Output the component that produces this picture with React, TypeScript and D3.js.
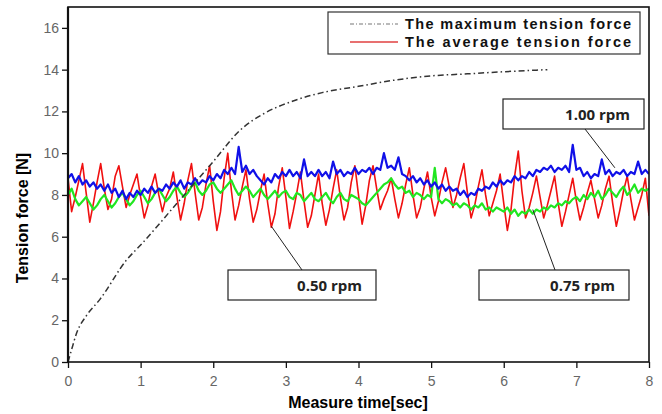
import * as d3 from "d3";
import { useEffect, useRef } from "react";

// ---- data ----
const maxTime = [0, 0.05, 0.12, 0.25, 0.44, 0.81, 1.0, 1.5, 2.0, 2.37, 2.7, 3.1, 3.5, 4.0, 4.5, 5.0, 5.5, 6.0, 6.6];
const maxForce = [0, 0.6, 1.4, 2.2, 3.0, 4.9, 5.6, 7.6, 9.6, 11.1, 11.9, 12.5, 12.9, 13.2, 13.5, 13.7, 13.8, 13.9, 14.0];

// samples every 0.05 s, 0 .. 8 s
const sampleStep = 0.05;

const rpm050 = [
  8.8, 7.2, 7.9, 8.7, 9.5, 8.1, 6.7, 7.6, 8.6, 9.5,
  8.3, 7.3, 7.8, 8.9, 9.4, 8.4, 7.4, 8.0, 8.5, 9.0,
  7.9, 6.9, 7.5, 8.4, 9.0, 8.0, 7.2, 7.9, 8.3, 9.1,
  7.9, 6.8, 7.6, 8.7, 9.5, 8.1, 6.8, 7.4, 8.5, 9.4,
  7.7, 6.3, 7.2, 8.8, 10.0, 8.2, 6.8, 7.5, 8.4, 9.2,
  7.8, 6.7, 7.3, 8.2, 9.0, 7.6, 6.45, 7.1, 8.4, 9.3,
  7.9, 6.4, 7.2, 8.1, 9.1, 7.7, 6.45, 7.0, 8.0, 9.0,
  7.6, 6.55, 7.3, 8.3, 9.2, 7.9, 6.8, 7.4, 8.6, 9.4,
  8.0, 6.6, 7.5, 8.7, 9.4, 8.3, 7.3, 7.8, 8.2, 8.8,
  7.8, 6.9, 7.6, 8.5, 9.3, 8.0, 6.9, 7.4, 8.3, 9.1,
  7.9, 7.0, 7.7, 8.6, 9.3, 8.4, 7.4, 8.0, 8.8, 9.5,
  8.1, 6.9, 7.5, 8.4, 9.2, 8.0, 7.0, 7.6, 8.2, 9.0,
  7.6, 6.3, 7.3, 8.9, 10.1, 8.2, 6.9, 7.4, 8.1, 8.9,
  7.9, 6.9, 7.5, 8.2, 8.9, 7.6, 6.5, 7.2, 8.0, 8.8,
  7.7, 6.8, 7.4, 8.1, 8.7, 7.8, 6.9, 7.5, 8.3, 8.9,
  7.6, 6.5, 7.3, 8.2, 8.9, 7.8, 6.8, 7.4, 8.0, 8.8,
  7.0,
];

const rpm075 = [
  8.0, 8.3, 7.8, 7.5, 7.7, 7.9, 7.6, 7.3, 7.5, 7.8,
  8.0, 7.7, 7.4, 7.6, 7.9, 8.1, 7.8, 7.5, 7.7, 8.0,
  8.2, 7.9, 7.6, 7.8, 8.1, 8.3, 8.0, 7.7, 7.9, 8.2,
  8.4, 8.1, 7.9, 8.1, 8.4, 8.6, 8.2, 8.0, 8.2, 8.5,
  8.6, 8.3, 8.1, 8.3, 8.5, 8.7, 8.3, 8.0, 8.2, 8.4,
  8.2, 7.9, 8.1, 8.3, 8.0, 7.8, 8.0, 8.2, 7.9, 8.1,
  8.2, 7.9, 7.8, 8.1, 8.0, 7.7, 7.9, 8.1, 7.8, 7.7,
  7.9, 8.1, 7.8, 7.6, 7.9, 8.1, 7.8, 7.7, 8.0, 7.9,
  7.8, 7.6, 7.5, 7.7, 7.9, 8.1, 8.3, 8.5, 8.6, 8.8,
  8.5, 8.3, 8.4, 8.1, 8.2, 7.9, 8.1, 8.0, 7.8, 8.0,
  7.9, 9.3, 7.8, 7.6, 7.8, 7.7, 7.5, 7.6, 7.4, 7.6,
  7.5, 7.3, 7.5, 7.4, 7.6, 7.3, 7.4, 7.2, 7.4, 7.3,
  7.2, 7.4, 7.1, 7.3, 7.0, 7.2, 7.1, 7.3, 7.1, 7.3,
  7.2, 7.4, 7.3, 7.5, 7.4, 7.6, 7.5, 7.7, 7.6, 7.8,
  7.9, 7.7, 8.0, 7.8, 8.1, 7.9, 8.2, 7.8, 8.0, 8.3,
  8.1, 7.9, 8.2, 8.4, 8.0, 8.2, 8.5, 8.1, 8.3, 8.2,
  8.3,
];

const rpm100 = [
  8.8, 9.0, 8.6, 8.9, 8.5, 8.7, 8.4, 8.6, 8.3, 8.5,
  8.2, 8.5, 8.1, 8.3, 7.9, 8.2, 7.8, 8.1, 7.9, 8.2,
  8.0, 8.3, 8.1, 8.4, 8.1, 8.3, 8.2, 8.5, 8.3, 8.6,
  8.4, 8.7, 8.3, 8.6, 8.5, 8.8, 8.5, 8.7, 8.6, 8.9,
  8.7, 9.0, 8.8, 9.2, 9.0, 9.3, 9.0, 10.3, 9.1, 9.4,
  9.0, 9.2, 8.9, 8.7, 8.5, 8.8, 8.6, 9.0, 8.8, 9.1,
  8.9, 9.2, 8.9, 9.1, 8.8, 9.7, 8.9, 9.1, 8.9, 9.2,
  8.9, 9.1, 8.8, 9.6, 9.0, 9.2, 8.9, 9.1, 9.0, 9.3,
  9.0, 9.2, 9.1, 9.3, 9.0, 9.3, 9.2, 10.0, 9.3, 9.4,
  9.2, 9.8, 9.0, 8.9, 8.7, 8.9, 8.6, 8.8, 8.5, 8.7,
  8.4, 8.6, 8.3, 8.5, 8.2, 8.4, 8.2, 8.3, 8.0, 8.2,
  7.9, 8.1, 8.0, 8.3, 8.2, 8.4, 8.3, 8.6, 8.4, 8.7,
  8.5, 8.7, 8.6, 8.9, 8.7, 8.9, 8.8, 9.1, 8.9, 9.2,
  9.1, 9.3, 9.2, 9.4, 9.1, 9.3, 9.2, 9.4, 9.1, 10.4,
  9.2, 9.3, 8.9, 9.1, 8.8, 9.0, 8.9, 9.7, 9.0, 9.2,
  8.9, 9.1, 9.0, 9.2, 8.9, 9.1, 9.0, 9.6, 9.0, 9.2,
  9.0,
];

const xTicks = [0, 1, 2, 3, 4, 5, 6, 7, 8];
const yTicks = [0, 2, 4, 6, 8, 10, 12, 14, 16];
const legendLabels = ["The maximum tension force", "The average tension force"];

// label, point on the trace [sec, N] the leader line goes to
const rpmLabels = ["1.00 rpm", "0.50 rpm", "0.75 rpm"];
const rpmTargets = [[7.53, 9.3], [2.8, 6.5], [6.4, 7.3]];

const App = () => {
  const ref = useRef<SVGSVGElement>(null);

  useEffect(() => {
    const svg = d3.select(ref.current);
    svg.selectAll("*").remove();

    const left = 68, right = 649, top = 7, bottom = 362;
    const x = d3.scaleLinear().domain([0, 8]).range([left, right]);
    const y = d3.scaleLinear().domain([0, 17]).range([bottom, top]);

    svg.append("defs").append("clipPath").attr("id", "plotclip")
      .append("rect").attr("x", left).attr("y", top)
      .attr("width", right - left).attr("height", bottom - top);

    const plot = svg.append("g").attr("clip-path", "url(#plotclip)");

    const series = (vals: number[]) => vals.map((v, i) => [i * sampleStep, v] as [number, number]);
    const line = d3.line<[number, number]>().x((d) => x(d[0])).y((d) => y(d[1]));

    const traces = [
      { vals: rpm050, color: "#f01010", w: 1.6 },
      { vals: rpm075, color: "#20e620", w: 2.2 },
      { vals: rpm100, color: "#1010e8", w: 2.2 },
    ];
    traces.forEach((tr) => {
      plot.append("path")
        .attr("d", line(series(tr.vals)))
        .attr("fill", "none")
        .attr("stroke", tr.color)
        .attr("stroke-width", tr.w)
        .attr("stroke-linejoin", "round");
    });

    const maxLine = d3.line<number>()
      .x((d, i) => x(maxTime[i]))
      .y((d) => y(d))
      .curve(d3.curveMonotoneX);
    plot.append("path")
      .attr("d", maxLine(maxForce))
      .attr("fill", "none")
      .attr("stroke", "#333")
      .attr("stroke-width", 1.5)
      .attr("stroke-dasharray", "6,3,1.5,3");

    // axes
    const xAxis = svg.append("g").attr("transform", `translate(0,${bottom})`);
    xAxis.call(d3.axisBottom(x).tickValues(d3.range(0, 8.01, 0.5)).tickSize(3).tickFormat(() => ""));
    xAxis.call(d3.axisBottom(x).tickValues(xTicks).tickSize(6).tickFormat(d3.format("d")));
    const yAxis = svg.append("g").attr("transform", `translate(${left},0)`);
    yAxis.call(d3.axisLeft(y).tickValues(d3.range(0, 17.01, 1)).tickSize(3).tickFormat(() => ""));
    yAxis.call(d3.axisLeft(y).tickValues(yTicks).tickSize(6).tickFormat(d3.format("d")));
    svg.selectAll(".domain").remove();
    svg.selectAll(".tick line").attr("stroke", "#111").attr("stroke-width", 1.3);
    svg.selectAll(".tick text")
      .attr("fill", "#666")
      .style("font-family", "Liberation Sans, Arial, sans-serif")
      .style("font-size", "14px");
    xAxis.selectAll(".tick text").attr("dy", "1.1em");
    yAxis.selectAll(".tick text").attr("x", -9);

    svg.append("rect")
      .attr("x", left).attr("y", top)
      .attr("width", right - left).attr("height", bottom - top)
      .attr("fill", "none").attr("stroke", "#111").attr("stroke-width", 1.6);
    svg.append("line").attr("x1", left).attr("x2", left).attr("y1", top).attr("y2", bottom)
      .attr("stroke", "#111").attr("stroke-width", 2.2);

    svg.append("text")
      .attr("x", 358).attr("y", 408)
      .attr("text-anchor", "middle")
      .style("font-family", "Liberation Sans, Arial, sans-serif")
      .style("font-weight", "bold").style("font-size", "16px")
      .text("Measure time[sec]");
    svg.append("text")
      .attr("transform", "translate(28,218) rotate(-90)")
      .attr("text-anchor", "middle")
      .style("font-family", "Liberation Sans, Arial, sans-serif")
      .style("font-weight", "bold").style("font-size", "16px")
      .text("Tension force [N]");

    // legend
    const lg = svg.append("g");
    lg.append("rect").attr("x", 328).attr("y", 12).attr("width", 312).attr("height", 42)
      .attr("fill", "#fff").attr("stroke", "#333").attr("stroke-width", 1.2);
    lg.append("line").attr("x1", 350).attr("x2", 398).attr("y1", 24).attr("y2", 24)
      .attr("stroke", "#777").attr("stroke-width", 1.2).attr("stroke-dasharray", "4,2,1,2");
    lg.append("line").attr("x1", 350).attr("x2", 398).attr("y1", 42).attr("y2", 42)
      .attr("stroke", "#e04040").attr("stroke-width", 1.3);
    legendLabels.forEach((lab, i) => {
      lg.append("text")
        .attr("x", 405).attr("y", 29 + i * 18)
        .attr("textLength", 226).attr("lengthAdjust", "spacing")
        .style("font-family", "Liberation Sans, Arial, sans-serif")
        .style("font-weight", "bold").style("font-size", "14.5px")
        .attr("fill", "#111")
        .text(lab);
    });

    // rpm annotations
    const boxes = [
      { x: 503, y: 99, w: 141, h: 30, lx: 585, ly: 129 },
      { x: 228, y: 270, w: 148, h: 30, lx: 302, ly: 270 },
      { x: 479, y: 270, w: 150, h: 30, lx: 555, ly: 270 },
    ];
    rpmLabels.forEach((lab, i) => {
      const b = boxes[i];
      const [tt, tv] = rpmTargets[i];
      svg.append("line")
        .attr("x1", b.lx).attr("y1", b.ly)
        .attr("x2", x(tt)).attr("y2", y(tv))
        .attr("stroke", "#222").attr("stroke-width", 1);
      svg.append("rect")
        .attr("x", b.x).attr("y", b.y).attr("width", b.w).attr("height", b.h)
        .attr("fill", "#fff").attr("stroke", "#222").attr("stroke-width", 1.2);
      svg.append("text")
        .attr("x", b.x + b.w - 14).attr("y", b.y + 21)
        .attr("text-anchor", "end")
        .style("font-family", "Open Sans, Noto Sans, sans-serif")
        .style("font-weight", "bold").style("font-size", "15px")
        .attr("fill", "#222")
        .text(lab);
    });
  }, []);

  return (
    <svg ref={ref} width={662} height={414}
      style={{ position: "absolute", left: 0, top: 0, background: "#fff" }} />
  );
};

export default App;
